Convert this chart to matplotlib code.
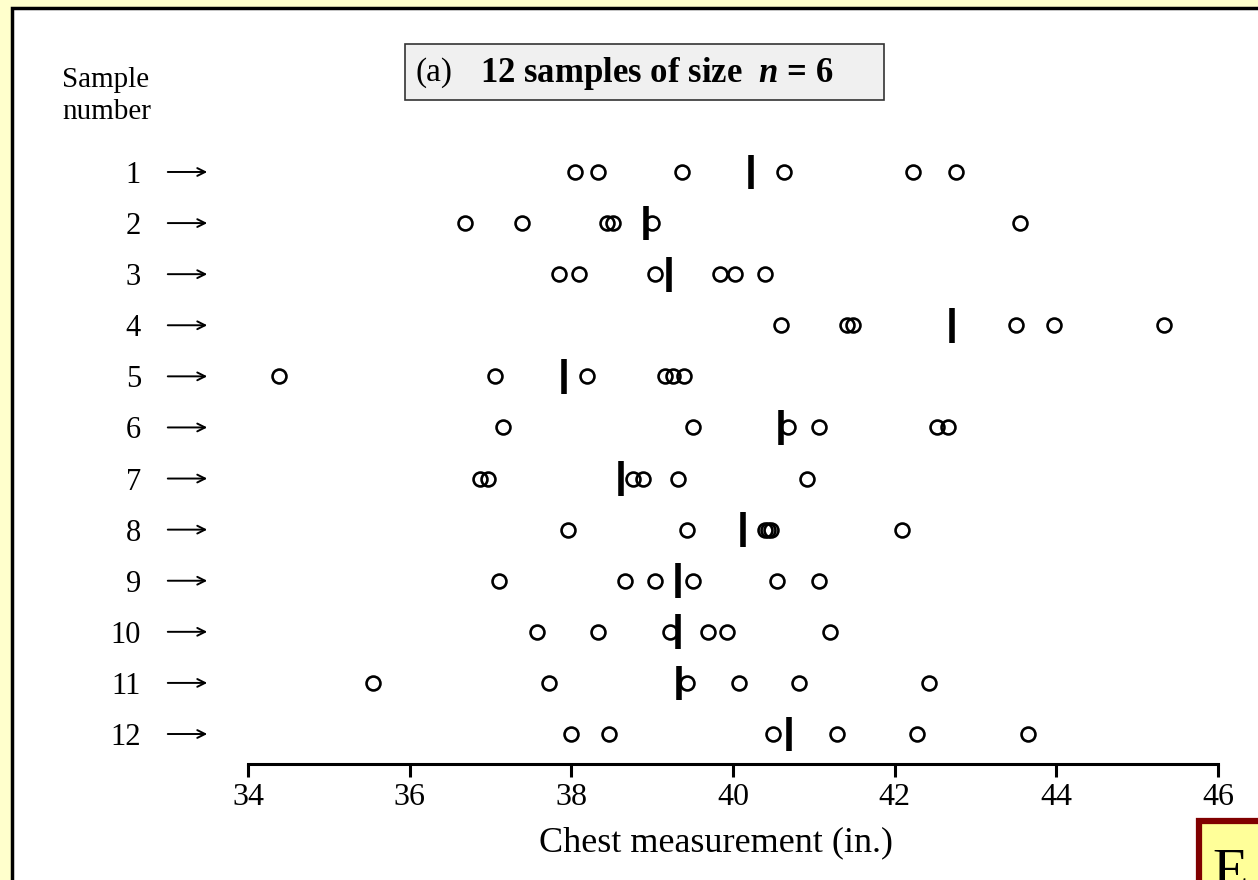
import numpy as np
import matplotlib
matplotlib.use('Agg')
import matplotlib.pyplot as plt
from matplotlib.patches import Rectangle
from matplotlib.transforms import blended_transform_factory

s1 = [38.05, 38.33, 39.37, 40.63, 42.23, 42.76]
s2 = [36.68, 37.39, 38.44, 38.51, 39.00, 43.55]
s3 = [37.85, 38.10, 39.04, 39.84, 40.03, 40.40]
s4 = [40.59, 41.41, 41.48, 43.50, 43.97, 45.33]
s5 = [34.38, 37.06, 38.19, 39.16, 39.26, 39.39]
s6 = [37.16, 39.51, 40.68, 41.06, 42.52, 42.66]
s7 = [36.87, 36.97, 38.76, 38.89, 39.32, 40.91]
s8 = [37.96, 39.43, 40.39, 40.43, 40.47, 42.09]
s9 = [37.11, 38.66, 39.03, 39.51, 40.54, 41.06]
s10 = [37.58, 38.33, 39.22, 39.69, 39.93, 41.20]
s11 = [35.55, 37.72, 39.43, 40.07, 40.82, 42.43]
s12 = [38.00, 38.47, 40.49, 41.29, 42.28, 43.65]
samples = [s1, s2, s3, s4, s5, s6, s7, s8, s9, s10, s11, s12]
sample_ids = list(range(1, 13))
xticks = [34, 36, 38, 40, 42, 44, 46]

plt.rcParams['font.family'] = ['Liberation Serif', 'DejaVu Serif']
plt.rcParams['mathtext.fontset'] = 'custom'
plt.rcParams['mathtext.rm'] = 'Liberation Serif:bold'
plt.rcParams['mathtext.it'] = 'Liberation Serif:italic:bold'
plt.rcParams['mathtext.bf'] = 'Liberation Serif:bold'

W, H = 1258, 880
fig = plt.figure(figsize=(W / 100, H / 100), dpi=100, facecolor='#FFFFCC')

def fx(px):
    return px / W

def fy(py):
    return 1 - py / H

# white panel with black frame
fig.patches.append(Rectangle((fx(11.5), fy(960)), fx(1400), (960 - 7.5) / H,
                             transform=fig.transFigure, facecolor='white',
                             edgecolor='black', lw=2.5, zorder=0))

ax = fig.add_axes([fx(248), fy(764), fx(1218) - fx(248), fy(140) - fy(764)])
ax.set_zorder(3)
ax.set_facecolor('none')
ax.set_xlim(34, 46)
ax.set_ylim(12.587, 0.374)

for i, vals in zip(sample_ids, samples):
    ax.plot(vals, [i] * len(vals), 'o', ms=10, mfc='none', mec='black', mew=1.9)
    ax.vlines(np.mean(vals), i - 0.34, i + 0.34, color='black', lw=4)

for s in ['top', 'left', 'right']:
    ax.spines[s].set_visible(False)
ax.spines['bottom'].set_linewidth(2.2)
ax.spines['bottom'].set_bounds(34, 46)
ax.set_yticks([])
ax.set_xticks(xticks)
ax.tick_params(axis='x', direction='out', length=9, width=2.2, pad=5, labelsize=23)

# row labels and arrows
tr = blended_transform_factory(fig.transFigure, ax.transData)
for i in sample_ids:
    ax.text(fx(141), i, str(i), transform=tr, ha='right', va='center_baseline', fontsize=22)
    ax.annotate('', xy=(fx(210), i), xycoords=tr, xytext=(fx(165), i), textcoords=tr,
                arrowprops=dict(arrowstyle='->', lw=1.4, color='black', mutation_scale=14))

fig.text(fx(62), fy(80), 'Sample', ha='left', va='center', fontsize=21)
fig.text(fx(62), fy(112), 'number', ha='left', va='center', fontsize=21)

fig.text(fx(716), fy(843), 'Chest measurement (in.)', ha='center', va='center', fontsize=26)

# title box
fig.patches.append(Rectangle((fx(405), fy(100)), fx(884) - fx(405), fy(44) - fy(100),
                             transform=fig.transFigure, facecolor='#F0F0F0',
                             edgecolor='#333333', lw=1.2, zorder=1))
fig.text(fx(416), fy(73), '(a)', ha='left', va='center', fontsize=24)
fig.text(fx(480), fy(73), r'12 samples of size  $n$ = 6', ha='left', va='center',
         fontsize=25, fontweight='bold')

# corner tab
fig.patches.append(Rectangle((fx(1199), fy(960)), fx(200), (960 - 821) / H,
                             transform=fig.transFigure, facecolor='#FFFF99',
                             edgecolor='#800000', lw=4.5, zorder=1))
fig.text(fx(1212), fy(848), 'E', ha='left', va='top', fontsize=42)

fig.savefig('out.png', dpi=100, facecolor=fig.get_facecolor())
